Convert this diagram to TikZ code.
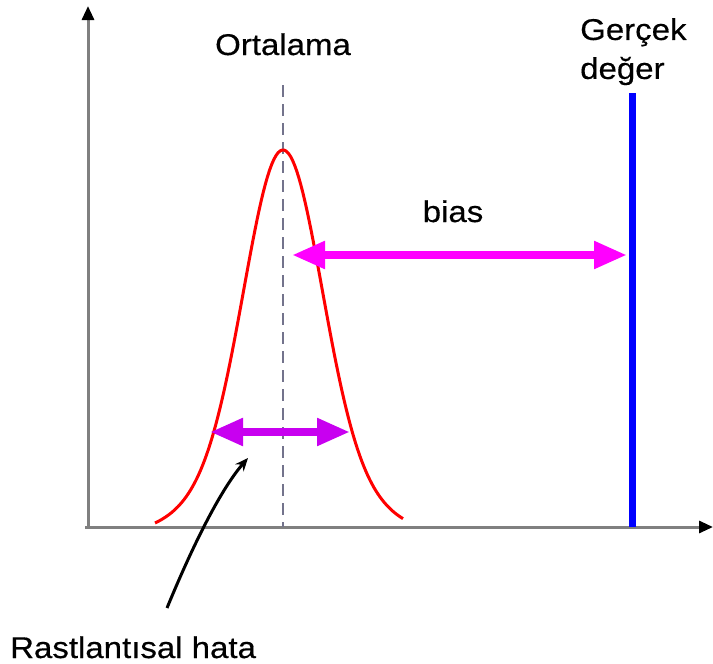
\documentclass[tikz,border=0pt]{standalone}
\usepackage{fontspec}
\setmainfont{Liberation Sans}
\newfontfamily\lblfont[FakeStretch=1.1,FakeBold=0.4]{Liberation Sans}
\usepackage{xcolor}
\usetikzlibrary{arrows.meta}
\definecolor{biasmag}{RGB}{255,0,255}
\definecolor{spreadvio}{RGB}{200,0,240}

\begin{document}
\begin{tikzpicture}[x=1pt, y=-1pt,
  axis/.style={draw=gray, line width=3pt, -{Triangle[length=14pt,width=12pt,black]}},
  mean/.style={draw=gray!90!blue, line width=2.5pt, dash pattern=on 12pt off 7pt},
  curve/.style={red, line width=3pt},
  truth/.style={blue, line width=7pt},
  span/.style={line width=8pt, {Triangle[length=33pt,width=26pt]}-{Triangle[length=33pt,width=26pt]}},
  pointer/.style={black, line width=3pt, -{Stealth[length=13pt,width=11pt]}},
  lbl/.style={font=\lblfont\fontsize{30}{39}\selectfont, inner sep=0pt}
]
\useasboundingbox (0,0) rectangle (713,664);
% axes
\coordinate (origin) at (88,527);
\coordinate (ytop) at (88,6);
\coordinate (xend) at (713,527);
\draw[axis] (origin) -- (ytop);
\draw[axis] (85,527) -- (xend);
% mean and distribution
\coordinate (meantop) at (283,85);
\coordinate (meanfoot) at (283,527);
\draw[mean] (meantop) -- (meanfoot);
\draw[curve] plot[domain=-128:120, samples=120]
  ({283+\x}, {527-377*((0.8*exp(-0.5*(\x/38)^2)+0.2*exp(-0.5*(\x/70)^2))-0.03)/0.97});
\node[lbl, anchor=base] (ortalama) at (283,55) {Ortalama};
% true value
\coordinate (truetop) at (632,93);
\coordinate (truefoot) at (632,527);
\draw[truth] (truetop) -- (truefoot);
\node[lbl, anchor=north west, align=left] (gercek) at (580,18) {Gerçek\\değer};
% bias
\coordinate (biasL) at (292,255);
\coordinate (biasR) at (627,255);
\draw[span, biasmag] (biasL) -- (biasR);
\node[lbl, anchor=base] (bias) at (453,222) {bias};
% random error
\coordinate (spreadL) at (210,432);
\coordinate (spreadR) at (350,432);
\draw[span, spreadvio] (spreadL) -- (spreadR);
\coordinate (tail) at (167,608);
\coordinate (tip) at (248,458);
\draw[pointer] (tail) .. controls (195,540) and (222,488) .. (tip);
\node[lbl, anchor=base west] (hata) at (10,658) {Rastlantısal hata};
\end{tikzpicture}
\end{document}
